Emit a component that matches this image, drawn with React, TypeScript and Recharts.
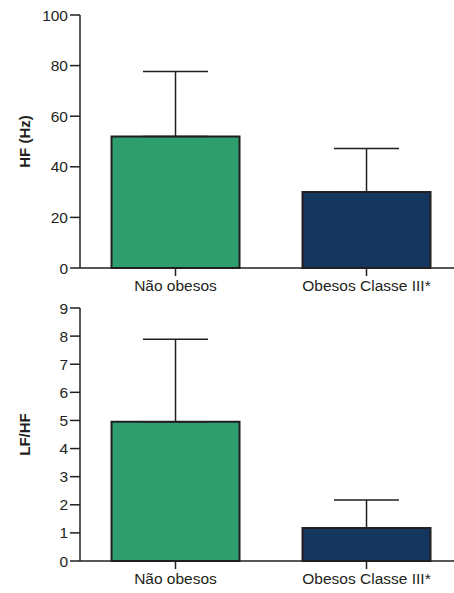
import { BarChart, Bar, XAxis, YAxis, ErrorBar, Cell } from "recharts";

const groups = ["Não obesos", "Obesos Classe III*"];
const hfMean = [52, 30];
const hfSd = [25.7, 17.2];
const ratioMean = [4.95, 1.17];
const ratioSd = [2.94, 1.0];
const hfTicks = [0, 20, 40, 60, 80, 100];
const ratioTicks = [0, 1, 2, 3, 4, 5, 6, 7, 8, 9];
const barColors = ["#2f9e6f", "#15375f"];

const ink = "#231f20";
const font = "'Liberation Sans', Arial, sans-serif";

function rows(mean: number[], sd: number[]) {
  return groups.map((g, i) => ({ name: g, value: mean[i], err: [0, sd[i]] }));
}

function Panel(props: { data: any[]; ticks: number[]; max: number; label: string }) {
  const { data, ticks, max, label } = props;
  return (
    <BarChart
      width={462}
      height={300}
      data={data}
      margin={{ top: 15, right: 0, left: 0, bottom: 2 }}
      barCategoryGap="16.5%"
    >
      <XAxis
        dataKey="name"
        height={30}
        tickSize={8}
        tickMargin={4}
        stroke={ink}
        strokeWidth={1.5}
        tick={{ fill: ink, fontSize: 15.5, fontFamily: font }}
      />
      <YAxis
        width={80}
        domain={[0, max]}
        ticks={ticks}
        tickSize={10}
        stroke={ink}
        strokeWidth={1.5}
        tick={{ fill: ink, fontSize: 15.5, fontFamily: font }}
        label={{
          value: label,
          angle: -90,
          position: "center",
          dx: -15,
          fill: ink,
          fontSize: 15,
          fontWeight: "bold",
          fontFamily: font,
        }}
      />
      <Bar dataKey="value" stroke={ink} strokeWidth={2} isAnimationActive={false}>
        {data.map((_, i) => (
          <Cell key={i} fill={barColors[i]} />
        ))}
        <ErrorBar dataKey="err" direction="y" width={32.5} stroke={ink} strokeWidth={1.5} />
      </Bar>
    </BarChart>
  );
}

export default function App() {
  return (
    <div
      style={{
        position: "absolute",
        left: 0,
        top: 0,
        width: 454,
        height: 593,
        overflow: "hidden",
        background: "#fff",
      }}
    >
      <div style={{ position: "absolute", left: 0, top: 0 }}>
        <Panel data={rows(hfMean, hfSd)} ticks={hfTicks} max={100} label="HF (Hz)" />
      </div>
      <div style={{ position: "absolute", left: 0, top: 293 }}>
        <Panel data={rows(ratioMean, ratioSd)} ticks={ratioTicks} max={9} label="LF/HF" />
      </div>
    </div>
  );
}
